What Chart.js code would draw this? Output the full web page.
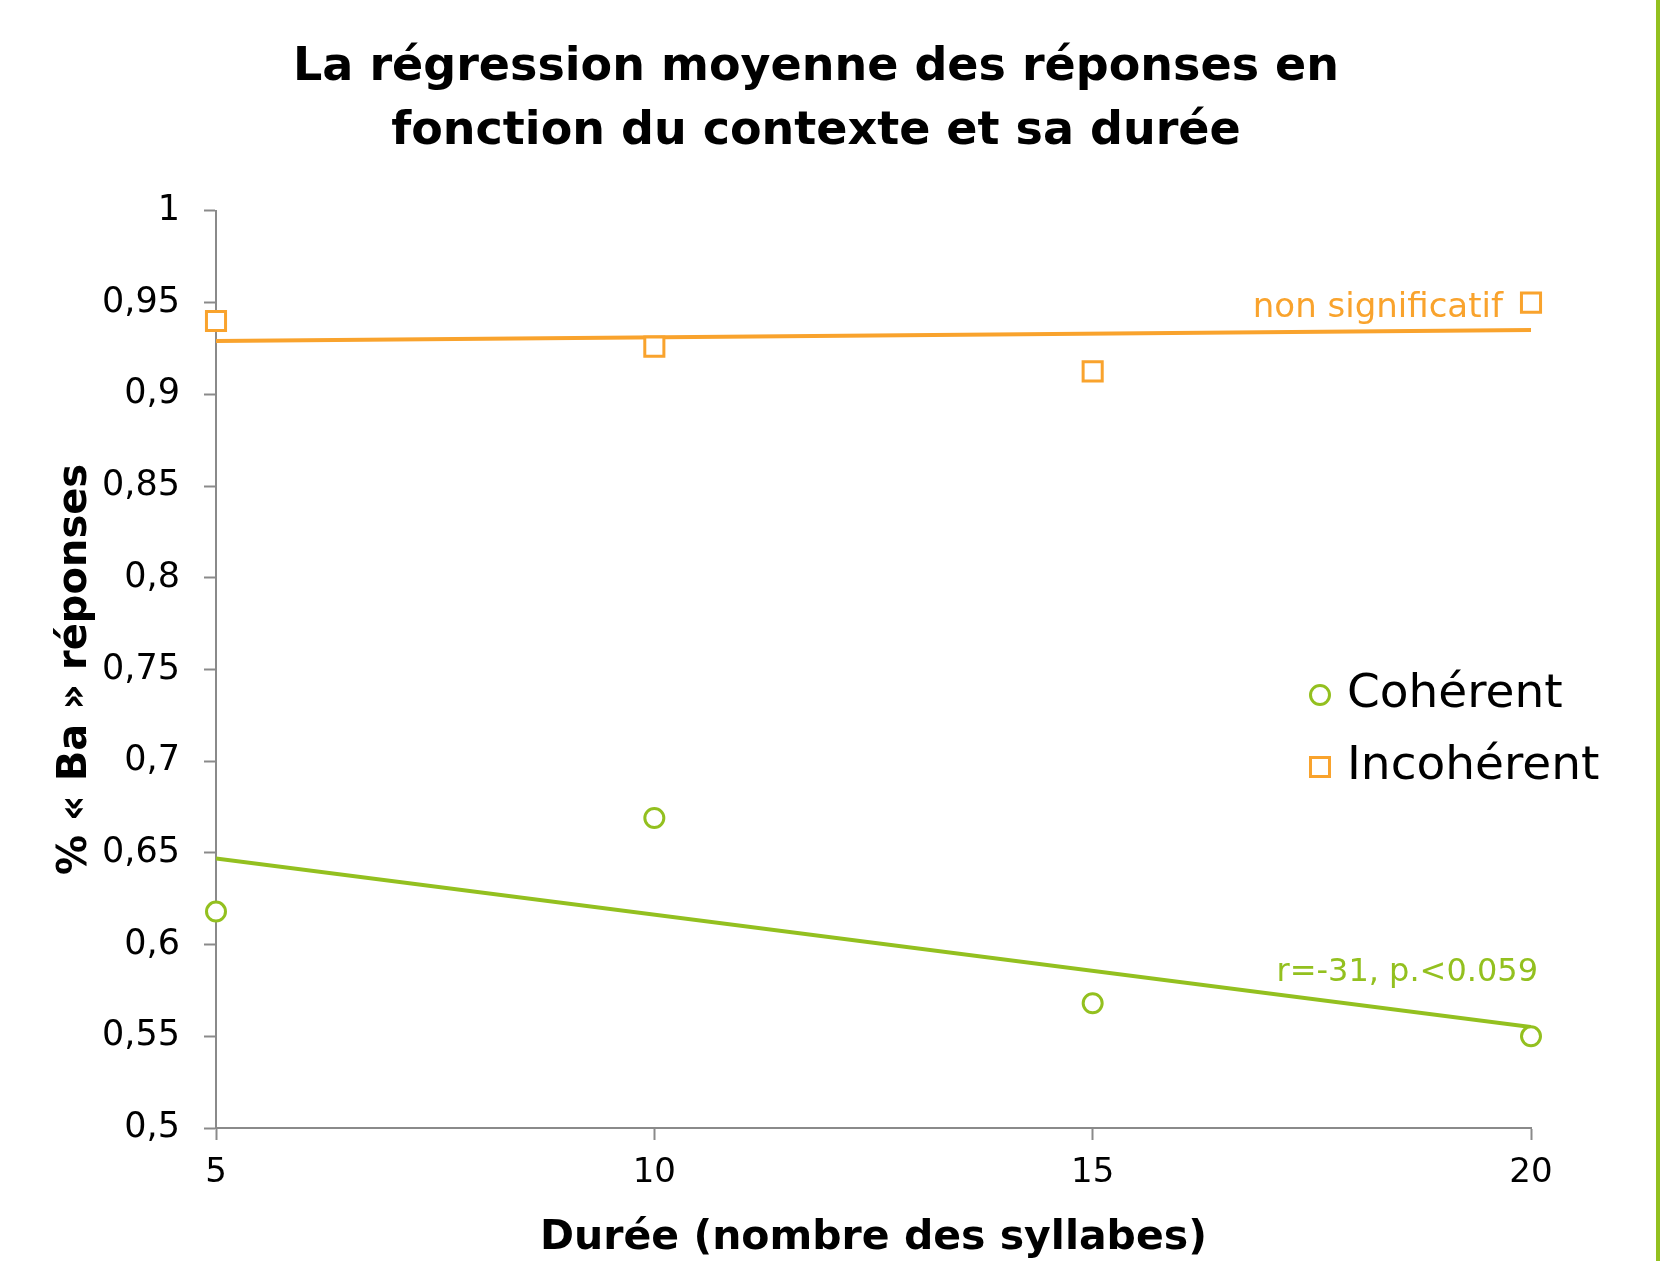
<!DOCTYPE html>
<html lang="fr">
<head>
<meta charset="utf-8">
<title>La régression moyenne des réponses</title>
<script src="https://cdn.jsdelivr.net/npm/chart.js@4/dist/chart.umd.min.js"></script>
<style>
  html, body { margin: 0; padding: 0; background: #ffffff; }
  #wrap { position: relative; width: 1666px; height: 1261px; }
</style>
</head>
<body>
<div id="wrap"><canvas id="chart"></canvas></div>
<script>
// Durée (nombre des syllabes) vs % « Ba » réponses

const durations = [5, 10, 15, 20];
const coherent = [0.618, 0.669, 0.568, 0.550];
const incoherent = [0.940, 0.926, 0.9125, 0.950];

// regression line end points (at x = 5 and x = 20)
const trendX = [5, 20];
const trendCoherent = [0.647, 0.555];
const trendIncoherent = [0.929, 0.935];

const yTicksMin = 0.5;
const yTicksMax = 1;
const yStep = 0.05;

const GREEN = '#93c01f';
const ORANGE = '#f9a32d';
const AXIS = '#8a8a8a';
const FONT = "'DejaVu Sans', sans-serif";

function toPoints(xs, ys) {
    return xs.map((x, i) => ({ x: x, y: ys[i] }));
}

// text notes next to the regression lines
const notes = [
    { text: 'non significatif', x: 19.68, y: 0.947, color: ORANGE, size: 34 },
    { text: 'r=-31, p.<0.059', x: 20.08, y: 0.5845, color: GREEN, size: 32 }
];

const notesPlugin = {
    id: 'notes',
    afterDatasetsDraw(chart) {
        const ctx = chart.ctx;
        const xs = chart.scales.x, ys = chart.scales.y;
        ctx.save();
        notes.forEach(n => {
            ctx.font = n.size + 'px ' + FONT;
            ctx.fillStyle = n.color;
            ctx.textAlign = 'right';
            ctx.textBaseline = 'middle';
            ctx.fillText(n.text, xs.getPixelForValue(n.x), ys.getPixelForValue(n.y));
        });
        ctx.restore();
    }
};

// legend drawn inside the plot, right side
const sideLegend = {
    id: 'sideLegend',
    afterDraw(chart) {
        const ctx = chart.ctx;
        const items = chart.data.datasets.filter(d => !d.isTrend);
        ctx.save();
        items.forEach((d, i) => {
            const cy = 695 + i * 72;
            ctx.strokeStyle = d.borderColor;
            ctx.lineWidth = 3;
            ctx.beginPath();
            if (d.pointStyle === 'rect') {
                ctx.rect(1310.5, cy - 9.5, 19, 19);
            } else {
                ctx.arc(1320, cy, 9.5, 0, Math.PI * 2);
            }
            ctx.fillStyle = '#ffffff';
            ctx.fill();
            ctx.stroke();
            ctx.font = '47px ' + FONT;
            ctx.fillStyle = '#000000';
            ctx.textAlign = 'left';
            ctx.textBaseline = 'middle';
            ctx.fillText(d.label, 1347, cy);
        });
        // green frame edge on the right
        ctx.fillStyle = GREEN;
        ctx.fillRect(1656, 0, 4, chart.height);
        ctx.restore();
    }
};

const canvas = document.getElementById('chart');
canvas.width = 1666;
canvas.height = 1261;

new Chart(canvas.getContext('2d'), {
    type: 'scatter',
    data: {
        datasets: [{
            label: 'Cohérent',
            data: toPoints(durations, coherent),
            pointStyle: 'circle',
            pointRadius: 9.5,
            borderWidth: 3,
            borderColor: GREEN,
            backgroundColor: '#ffffff',
            clip: false
        }, {
            label: 'Incohérent',
            data: toPoints(durations, incoherent),
            pointStyle: 'rect',
            pointRadius: 13.5,
            borderWidth: 3,
            borderColor: ORANGE,
            backgroundColor: '#ffffff',
            clip: false
        }, {
            label: 'tendance cohérent',
            isTrend: true,
            data: toPoints(trendX, trendCoherent),
            showLine: true,
            pointRadius: 0,
            borderWidth: 4,
            borderColor: GREEN
        }, {
            label: 'tendance incohérent',
            isTrend: true,
            data: toPoints(trendX, trendIncoherent),
            showLine: true,
            pointRadius: 0,
            borderWidth: 4,
            borderColor: ORANGE
        }]
    },
    options: {
        responsive: false,
        animation: false,
        layout: { padding: { left: 0, right: 34, top: 0, bottom: 0 } },
        scales: {
            x: {
                type: 'linear',
                min: 5,
                max: 20,
                ticks: {
                    stepSize: 5,
                    color: '#000000',
                    padding: 13,
                    font: { family: FONT, size: 34 }
                },
                grid: { drawOnChartArea: false, drawTicks: true, tickLength: 12, color: AXIS, tickWidth: 2 },
                border: { color: AXIS, width: 2 },
                title: {
                    display: true,
                    text: 'Durée (nombre des syllabes)',
                    color: '#000000',
                    font: { family: FONT, size: 41, weight: 'bold', lineHeight: 1 },
                    padding: { top: 0, bottom: 2 }
                },
                afterFit(scale) { scale.height = 133; }
            },
            y: {
                type: 'linear',
                min: yTicksMin,
                max: yTicksMax,
                ticks: {
                    stepSize: yStep,
                    color: '#000000',
                    padding: 24,
                    font: { family: FONT, size: 35 },
                    callback: v => String(Math.round(v * 100) / 100).replace('.', ',')
                },
                grid: { drawOnChartArea: false, drawTicks: true, tickLength: 12, color: AXIS, tickWidth: 2 },
                border: { color: AXIS, width: 2 },
                title: {
                    display: true,
                    text: '% « Ba » réponses',
                    color: '#000000',
                    font: { family: FONT, size: 40, weight: 'bold', lineHeight: 1.2 },
                    padding: { top: 52, bottom: 0 }
                },
                afterFit(scale) { scale.width = 216; }
            },
            // empty space to the right of the plot
            yRight: {
                type: 'linear',
                position: 'right',
                display: true,
                grid: { display: false },
                border: { display: false },
                ticks: { display: false },
                afterFit(scale) { scale.width = 101; }
            }
        },
        plugins: {
            legend: { display: false },
            tooltip: { enabled: false },
            title: {
                display: true,
                text: ['La régression moyenne des réponses en', 'fonction du contexte et sa durée'],
                color: '#000000',
                font: { family: FONT, size: 46, weight: 'bold', lineHeight: 1.39 },
                padding: { top: 36, bottom: 47 }
            }
        }
    },
    plugins: [notesPlugin, sideLegend]
});
</script>
</body>
</html>
